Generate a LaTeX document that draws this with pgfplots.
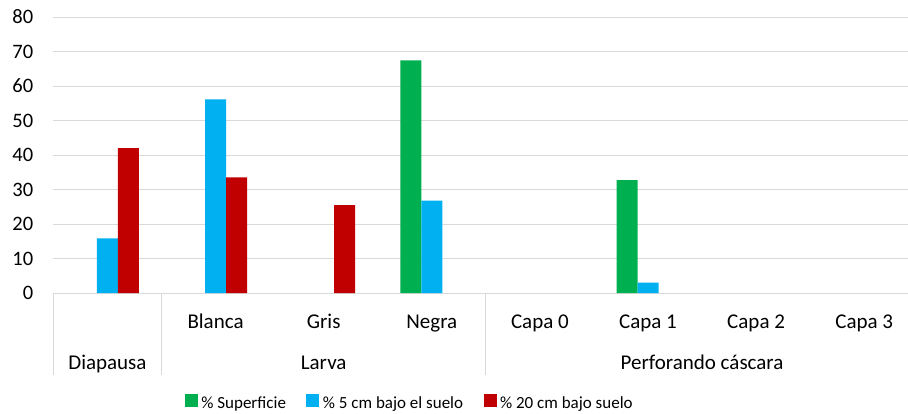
\documentclass[border=0pt]{standalone}
\usepackage{pgfplots}
\pgfplotsset{compat=1.18}
\usepackage{fontspec}
\setmainfont{Carlito}
\definecolor{cgreen}{HTML}{00B050}
\definecolor{cblue}{HTML}{00B0F0}
\definecolor{cred}{HTML}{C00000}
\definecolor{cgrid}{HTML}{D9D9D9}
\begin{document}
\begin{tikzpicture}
\path[use as bounding box] (0,0) rectangle (908pt,413pt);
\begin{axis}[
 at={(53.4pt,120pt)}, anchor=south west,
 scale only axis, width=854.6pt, height=276pt,
 xmin=-0.5, xmax=7.405, ymin=0, ymax=80,
 ybar=0pt, bar width=21pt,
 ytick={0,10,...,80},
 xtick={0,...,7},
 xticklabels={,Blanca,Gris,Negra,Capa 0,Capa 1,Capa 2,Capa 3},
 ymajorgrids, grid style={cgrid, line width=1pt},
 axis line style={draw=none},
 major tick length=0pt,
 tick style={draw=none},
 clip=false,
 /pgf/number format/assume math mode=true,
 yticklabel style={font=\fontsize{20.5}{24}\selectfont, anchor=east, inner sep=0pt, xshift=-20pt},
 xticklabel style={font=\fontsize{21}{24}\selectfont, anchor=base, inner sep=0pt, yshift=-35pt},
 legend columns=3,
 legend style={draw=none, at={(axis description cs:0.4167,-0.398)}, anchor=center, font=\fontsize{17}{20}\selectfont, nodes={inner sep=1.5pt}, /tikz/every odd column/.append style={column sep=2pt}, /tikz/every even column/.append style={column sep=19pt}},
 legend image code/.code={\fill[#1] (0pt,-4pt) rectangle (13pt,9pt);},
]
\addplot[fill=cgreen, draw=none] coordinates {(3,67.4) (5,32.7)};
\addplot[fill=cblue, draw=none] coordinates {(0,15.8) (1,56.1) (3,26.8) (5,3.0)};
\addplot[fill=cred, draw=none] coordinates {(0,42.0) (1,33.5) (2,25.5)};
\legend{\% Superficie, \% 5 cm bajo el suelo, \% 20 cm bajo suelo}
\draw[cgrid, line width=1pt] (axis cs:-0.5,0) -- ([yshift=-82pt]axis cs:-0.5,0);
\draw[cgrid, line width=1pt] (axis cs:0.5,0) -- ([yshift=-82pt]axis cs:0.5,0);
\draw[cgrid, line width=1pt] (axis cs:3.5,0) -- ([yshift=-82pt]axis cs:3.5,0);
\node[anchor=base, inner sep=0pt, yshift=-76pt, font=\fontsize{21}{24}\selectfont] at (axis cs:0,0) {Diapausa};
\node[anchor=base, inner sep=0pt, yshift=-76pt, font=\fontsize{21}{24}\selectfont] at (axis cs:2,0) {Larva};
\node[anchor=base, inner sep=0pt, yshift=-76pt, font=\fontsize{21}{24}\selectfont] at (axis cs:5.5,0) {Perforando cáscara};
\end{axis}
\end{tikzpicture}
\end{document}
